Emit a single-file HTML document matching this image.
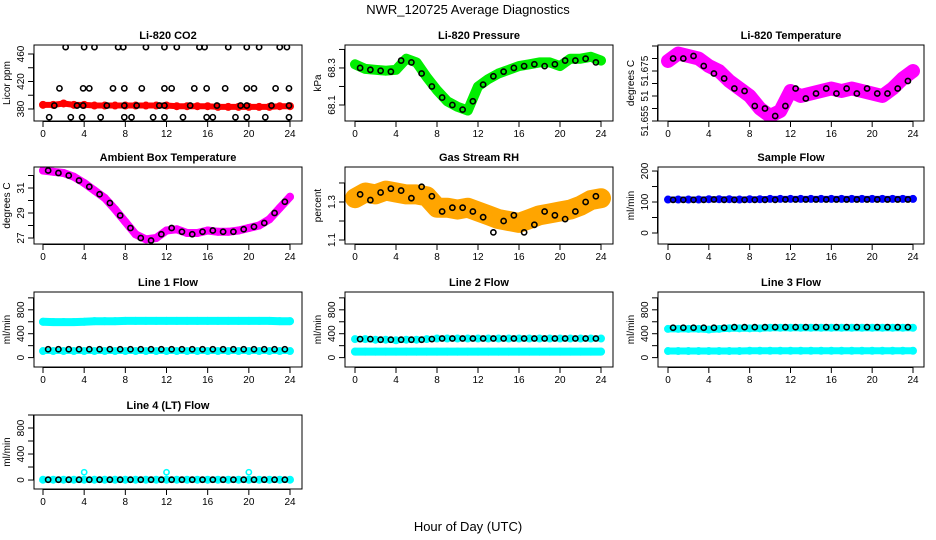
<!DOCTYPE html>
<html><head><meta charset="utf-8"><style>
html,body{margin:0;padding:0;background:#fff;}
svg{display:block;font-family:"Liberation Sans",sans-serif;}
</style></head><body>
<svg id="fig" width="936" height="540" viewBox="0 0 936 540">
<text x="468" y="14" text-anchor="middle" font-size="13">NWR_120725  Average Diagnostics</text>
<text x="468" y="531" text-anchor="middle" font-size="13">Hour of Day (UTC)</text>
</svg>
<script>
const hours = [0,1,2,3,4,5,6,7,8,9,10,11,12,13,14,15,16,17,18,19,20,21,22,23,24];
const halfHours = [0.5,1.5,2.5,3.5,4.5,5.5,6.5,7.5,8.5,9.5,10.5,11.5,12.5,13.5,14.5,15.5,16.5,17.5,18.5,19.5,20.5,21.5,22.5,23.5];
const xTickLabels = ["0","4","8","12","16","20","24"];

const co2Band = [386,386,388,386,386,385,385,385,385,385,385,385,385,384,384,384,384,383,383,383,383,383,383,384,384];
const co2HighX = [2.2,4,5,7.3,7.8,10,11.8,13,15.2,15.7,18,19.8,21,23,23.7];
const co2MidX = [1.6,3.9,4.5,6.8,7.9,9.6,11.8,12.5,14.7,15.9,17.7,19.8,20.5,22.6,23.9];
const co2LowX = [1.1,3.3,3.9,6.2,7.9,9.1,11.3,11.8,14.3,16.9,19.2,19.8,22.2,23.9];
const co2BotX = [0.6,2.7,3.8,5.6,7.9,8.6,10.7,11.8,13.6,15.9,16.5,18.7,19.8,21.6,23.9];

const presBand = [68.32,68.295,68.29,68.285,68.29,68.35,68.33,68.25,68.18,68.12,68.09,68.07,68.2,68.24,68.27,68.29,68.31,68.32,68.33,68.33,68.31,68.35,68.35,68.36,68.34];
const presPts = [68.30,68.29,68.285,68.28,68.34,68.33,68.27,68.20,68.14,68.10,68.075,68.12,68.21,68.255,68.28,68.30,68.31,68.32,68.31,68.32,68.34,68.34,68.35,68.33];

const ltBand = [51.679,51.682,51.681,51.680,51.677,51.675,51.671,51.668,51.665,51.660,51.657,51.659,51.667,51.665,51.666,51.667,51.668,51.667,51.668,51.667,51.666,51.665,51.668,51.672,51.675];
const ltPts = [51.680,51.680,51.681,51.677,51.674,51.672,51.668,51.667,51.661,51.660,51.657,51.661,51.668,51.664,51.666,51.668,51.666,51.668,51.666,51.668,51.666,51.666,51.668,51.671];

const ambBand = [32.4,32.3,32.2,31.9,31.4,30.8,30.2,29.3,28.3,27.3,26.9,27.0,27.6,27.7,27.4,27.4,27.6,27.5,27.5,27.6,27.8,28.0,28.5,29.4,30.3];
const ambPts = [32.4,32.2,32.0,31.6,31.1,30.5,29.8,28.8,27.8,27.0,26.8,27.3,27.8,27.5,27.3,27.5,27.6,27.5,27.5,27.7,27.9,28.2,29.0,29.9];

const rhBand = [1.32,1.35,1.34,1.36,1.35,1.34,1.34,1.33,1.27,1.27,1.26,1.27,1.25,1.23,1.21,1.20,1.19,1.21,1.23,1.24,1.25,1.26,1.28,1.31,1.32];
const rhPts = [1.34,1.31,1.35,1.37,1.36,1.32,1.38,1.33,1.25,1.27,1.27,1.25,1.22,1.14,1.20,1.23,1.14,1.18,1.25,1.23,1.21,1.25,1.30,1.33];

const sfBand = [108,108,108,108,109,109,109,108,109,109,110,110,110,110,110,110,110,110,110,110,110,110,110,110,110];
const sfPts = [107,107,107,107,108,107,107,107,107,107,107,108,108,108,108,108,108,108,108,108,108,108,108,108];

const l1High = [600,595,595,595,600,610,610,610,615,615,615,615,615,615,615,615,615,615,615,615,615,615,615,610,610];
const l1Low = [110,110,110,110,110,110,110,110,110,110,110,110,110,110,110,110,110,110,110,110,110,110,110,110,110];
const l1Pts = [140,140,140,140,140,140,140,140,140,140,140,140,140,140,140,140,140,140,140,140,140,140,140,140];

const l2High = [310,310,300,300,290,300,300,310,320,320,320,320,320,320,320,320,320,320,320,320,320,320,320,320,320];
const l2Low = [100,100,100,100,100,100,100,100,100,100,100,100,100,100,100,100,100,100,100,100,100,100,100,100,100];
const l2Pts = [310,310,300,300,300,300,300,310,320,320,320,320,320,320,320,320,320,320,320,320,320,320,320,320];

const l3High = [480,480,480,480,470,480,490,490,490,490,500,500,500,500,500,500,500,500,500,500,500,500,500,500,500];
const l3Low = [110,110,110,110,110,110,110,110,115,115,115,115,115,115,115,115,115,115,115,115,115,115,115,115,115];
const l3Pts = [500,500,500,500,500,500,510,510,510,510,510,510,510,510,510,510,510,510,510,510,510,510,510,510];

const l4Band = [5,5,5,5,5,5,5,5,5,5,5,5,5,5,5,5,5,5,5,5,5,5,5,5,5];
const l4OutX = [4,12,20];
const l4OutY = [120,120,120];
const l4Pts = [5,5,5,5,5,5,5,5,5,5,5,5,5,5,5,5,5,5,5,5,5,5,5,5];

const NS="http://www.w3.org/2000/svg";
const fig=document.getElementById('fig');
function mk(tag,attrs,parent){const e=document.createElementNS(NS,tag);for(const k in attrs)e.setAttribute(k,attrs[k]);(parent||fig).appendChild(e);return e;}

const cols=[{l:34,r:302,x0:43,x1:290},{l:345,r:613,x0:355,x1:601},{l:658,r:924,x0:668,x1:913}];
const rows=[{t:45,b:121},{t:167,b:244},{t:292,b:367},{t:415,b:489}];

function panel(p){
  const c=cols[p.col], r=rows[p.row];
  const g=mk('g',{});
  
  
  const sx=v=>c.x0+(v/24)*(c.x1-c.x0);
  const sy=v=>r.b-(v-p.ymin)/(p.ymax-p.ymin)*(r.b-r.t);
  const t=mk('text',{x:(c.l+c.r)/2,y:r.t-6,'text-anchor':'middle','font-size':11,'font-weight':'bold'},g);
  t.textContent=p.title;
  
  
  const cid='clip'+p.name;
  const cp=mk('clipPath',{id:cid},g); mk('rect',{x:c.l,y:r.t,width:c.r-c.l,height:r.b-r.t},cp);
  const pl=mk('g',{'clip-path':'url(#'+cid+')'},g);
  (p.bands||[]).forEach(b=>{
    const pts=b.v.map((v,i)=>sx(hours[i]).toFixed(1)+','+sy(v).toFixed(1)).join(' ');
    const ln=mk('polyline',{points:pts,fill:'none',stroke:b.color,'stroke-width':b.w,'stroke-linejoin':'round','stroke-linecap':'round'},pl);
    
    
    b.v.forEach((v,i)=>{
      const cc=mk('circle',{cx:sx(hours[i]),cy:sy(v),r:3,fill:'none',stroke:b.color,'stroke-width':2},pl);
      
      
    });
  });
  (p.pts||[]).forEach(s=>{
    s.y.forEach((v,i)=>{
      const cc=mk('circle',{cx:sx(s.x[i]),cy:sy(v),r:2.6,fill:'none',stroke:s.color||'#000','stroke-width':1.6},pl);
      
      
    });
  });
  const box=mk('rect',{x:c.l,y:r.t,width:c.r-c.l,height:r.b-r.t,fill:'none',stroke:'#000','stroke-width':1},g);
  
  
  mk('line',{x1:sx(0),x2:sx(24),y1:r.b+0.5,y2:r.b+0.5,stroke:'#000'},g);
  xTickLabels.forEach(lb=>{
    const v=+lb;
    mk('line',{x1:sx(v),x2:sx(v),y1:r.b,y2:r.b+6,stroke:'#000'},g);
    const tx=mk('text',{x:sx(v),y:r.b+16,'text-anchor':'middle','font-size':10},g);
    tx.textContent=lb;
    
    
  });
  mk('line',{x1:c.l-0.5,x2:c.l-0.5,y1:sy(p.yt[0]),y2:sy(p.yt[p.yt.length-1]),stroke:'#000'},g);
  p.yt.forEach(v=>mk('line',{x1:c.l-6,x2:c.l,y1:sy(v),y2:sy(v),stroke:'#000'},g));
  p.yl.forEach((lb,i)=>{
    const y=sy(p.ylv[i]);
    const tx=mk('text',{x:c.l-10,y:y,'text-anchor':'middle','font-size':10,transform:'rotate(-90 '+(c.l-10)+' '+y+')'},g);
    tx.textContent=lb;
    
    
  });
  const ym=(r.t+r.b)/2, xl=c.l-24;
  const yt=mk('text',{x:xl,y:ym,'text-anchor':'middle','font-size':10,transform:'rotate(-90 '+xl+' '+ym+')'},g);
  yt.textContent=p.ylab;
  
  
}

const cst=(n,v)=>Array(n).fill(v);
panel({name:'co2-panel',title:'Li-820 CO2',col:0,row:0,ymin:362.5,ymax:473.1,yt:[380,400,420,440,460],yl:['380','420','460'],ylv:[380,420,460],ylab:'Licor ppm',
  bands:[{v:co2Band,color:'#ff0000',w:6}],
  pts:[{x:co2HighX,y:cst(co2HighX.length,470)},{x:co2MidX,y:cst(co2MidX.length,410)},{x:co2LowX,y:cst(co2LowX.length,385)},{x:co2BotX,y:cst(co2BotX.length,368)}]});
panel({name:'pressure-panel',title:'Li-820 Pressure',col:1,row:0,ymin:68.0135,ymax:68.424,yt:[68.1,68.2,68.3,68.4],yl:['68.1','68.3'],ylv:[68.1,68.3],ylab:'kPa',
  bands:[{v:presBand,color:'#00ee00',w:10}],pts:[{x:halfHours,y:presPts}]});
panel({name:'li820-temperature-panel',title:'Li-820 Temperature',col:2,row:0,ymin:51.655,ymax:51.6854,yt:[51.655,51.66,51.665,51.67,51.675,51.68,51.685],yl:['51.655','51','51.675'],ylv:[51.655,51.665,51.675],ylab:'degrees C',
  bands:[{v:ltBand,color:'#ff00ff',w:14}],pts:[{x:halfHours,y:ltPts}]});
panel({name:'ambient-temperature-panel',title:'Ambient Box Temperature',col:0,row:1,ymin:26.52,ymax:32.68,yt:[27,28,29,30,31,32],yl:['27','29','31'],ylv:[27,29,31],ylab:'degrees C',
  bands:[{v:ambBand,color:'#ff00ff',w:8}],pts:[{x:halfHours,y:ambPts}]});
panel({name:'rh-panel',title:'Gas Stream RH',col:1,row:1,ymin:1.079,ymax:1.484,yt:[1.1,1.2,1.3,1.4],yl:['1.1','1.3'],ylv:[1.1,1.3],ylab:'percent',
  bands:[{v:rhBand,color:'#ffa500',w:20}],pts:[{x:halfHours,y:rhPts}]});
panel({name:'sample-flow-panel',title:'Sample Flow',col:2,row:1,ymin:-35.5,ymax:213,yt:[0,50,100,150,200],yl:['0','100','200'],ylv:[0,100,200],ylab:'ml/min',
  bands:[{v:sfBand,color:'#0000ff',w:6}],pts:[{x:halfHours,y:sfPts}]});
const flowT={yt:[0,200,400,600,800,1000],yl:['0','400','800'],ylv:[0,400,800],ylab:'ml/min'};
panel(Object.assign({name:'line1-flow-panel',title:'Line 1 Flow',col:0,row:2,ymin:-157,ymax:1098,
  bands:[{v:l1High,color:'#00ffff',w:8},{v:l1Low,color:'#00ffff',w:6}],pts:[{x:halfHours,y:l1Pts}]},flowT));
panel(Object.assign({name:'line2-flow-panel',title:'Line 2 Flow',col:1,row:2,ymin:-157,ymax:1098,
  bands:[{v:l2High,color:'#00ffff',w:6},{v:l2Low,color:'#00ffff',w:8}],pts:[{x:halfHours,y:l2Pts}]},flowT));
panel(Object.assign({name:'line3-flow-panel',title:'Line 3 Flow',col:2,row:2,ymin:-157,ymax:1098,
  bands:[{v:l3High,color:'#00ffff',w:7},{v:l3Low,color:'#00ffff',w:7}],pts:[{x:halfHours,y:l3Pts}]},flowT));
panel(Object.assign({name:'line4-flow-panel',title:'Line 4 (LT) Flow',col:0,row:3,ymin:-138,ymax:1000,
  bands:[{v:l4Band,color:'#00ffff',w:6}],pts:[{x:l4OutX,y:l4OutY,color:'#00ffff'},{x:halfHours,y:l4Pts}]},flowT));
</script>
</body></html>
